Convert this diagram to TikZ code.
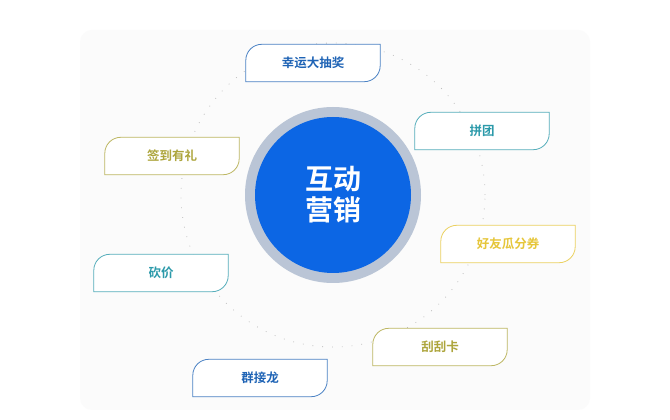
\documentclass[tikz,border=0pt]{standalone}
\usepackage{fontspec}
\newfontfamily\cjk{Noto Sans CJK SC}[BoldFont={Noto Sans CJK SC Bold}]
\definecolor{cblue}{HTML}{1E63B5}
\definecolor{cteal}{HTML}{2C9AAA}
\definecolor{colive}{HTML}{ADA53C}
\definecolor{cyell}{HTML}{E6C63A}
\definecolor{ring}{HTML}{BAC5D6}
\tikzset{
  lbl/.style={minimum width=134pt,minimum height=37pt,inner sep=0pt,font=\cjk\bfseries\fontsize{12.5}{14}\selectfont},
}
\newcommand{\pbox}[5]{%
  \node[lbl,text=#4] (#1) at (#2,#3) {#5};
  \draw[#4!80,line width=0.8pt,fill=white] (#1.south west) -- ([yshift=-16pt]#1.north west) arc(180:90:16pt) -- (#1.north east) -- ([yshift=16pt]#1.south east) arc(0:-90:16pt) -- cycle;
  \node[lbl,text=#4] at (#1) {#5};
}
\begin{document}
\begin{tikzpicture}[x=1pt,y=1pt]
\useasboundingbox (0,0) rectangle (670,420);
\fill[white] (0,0) rectangle (670,420);
\fill[gray!3,rounded corners=12pt] (80,10) rectangle (590,390);
\draw[gray!50,line width=0.8pt,dash pattern=on 0.8pt off 9pt] (333,225) circle (152);
\node[circle,fill=ring,minimum size=176pt,inner sep=0pt] (outer) at (333,225) {};
\node[circle,fill={rgb,255:red,12;green,102;blue,228},minimum size=156pt,inner sep=0pt,text=white,align=center,font=\cjk\bfseries\fontsize{28}{31}\selectfont] (core) at (outer) {互动\\营销};
\pbox{a}{313}{357}{cblue}{幸运大抽奖}
\pbox{b}{482}{289}{cteal}{拼团}
\pbox{c}{172}{264}{colive}{签到有礼}
\pbox{d}{508}{176}{cyell}{好友瓜分券}
\pbox{e}{161}{147}{cteal}{砍价}
\pbox{f}{440}{73}{colive}{刮刮卡}
\pbox{g}{260}{42}{cblue}{群接龙}
\end{tikzpicture}
\end{document}
